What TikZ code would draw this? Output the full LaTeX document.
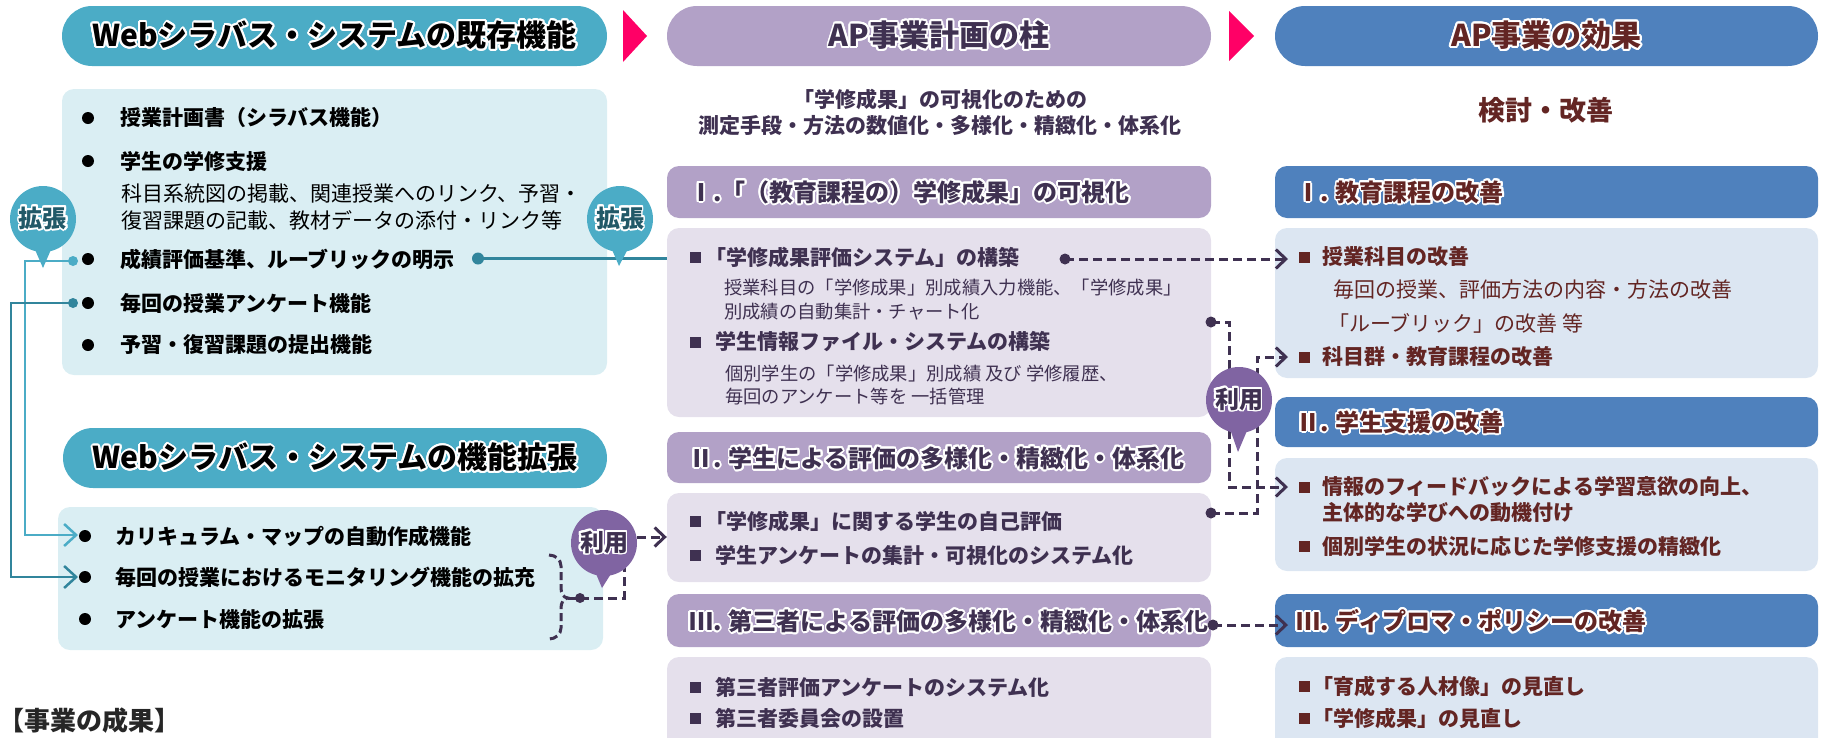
\documentclass[tikz,border=0pt]{standalone}
\usepackage{fontspec}
\setmainfont{Noto Sans CJK JP}
\usepackage{contour}
\contourlength{1.8pt}
\contournumber{24}
\usetikzlibrary{arrows.meta,calc}
\definecolor{tealH}{HTML}{4BACC6}
\definecolor{tealD}{HTML}{31859C}
\definecolor{tealL}{HTML}{DAEEF3}
\definecolor{tealT}{HTML}{215968}
\definecolor{purH}{HTML}{B2A1C7}
\definecolor{purL}{HTML}{E5E0EC}
\definecolor{purD}{HTML}{3F3151}
\definecolor{pinP}{HTML}{8064A2}
\definecolor{bluH}{HTML}{4F81BD}
\definecolor{bluL}{HTML}{DCE6F2}
\definecolor{redD}{HTML}{632523}
\definecolor{pinkT}{HTML}{FF0066}
\newcommand{\myfs}[1]{\fontsize{#1pt}{#1pt}\selectfont}
\newcommand{\sqb}[3]{\fill[#1] ({#2-5.5},{#3-5.5}) rectangle ++(11,11);}
\newcommand{\rdot}[3]{\fill[#1] (#2,#3) circle (6pt);}
\begin{document}
\begin{tikzpicture}[x=1pt,y=-1pt,
  pill/.style={fill=#1, rounded corners=30pt, inner sep=0pt, minimum height=60pt, minimum width=545pt, font=\myfs{30}\bfseries},
  box/.style={fill=#1, rounded corners=12pt, inner sep=0pt, minimum width=544pt},
  pinc/.style={circle, fill=#1, minimum size=66pt, inner sep=0pt, font=\myfs{24}\bfseries},
  tb/.style={anchor=west, inner sep=0pt, font=\myfs{21}\bfseries},
  tn/.style={anchor=west, inner sep=0pt, font=\myfs{21}},
  tm/.style={anchor=west, inner sep=0pt, font=\myfs{18.3}},
  sh/.style={anchor=west, inner sep=0pt, font=\myfs{24}\bfseries},
  dsh/.style={draw=purD, line width=3pt, dash pattern=on 9pt off 5pt},
  tarr/.style={-{Straight Barb[length=12pt,width=22pt]}},
  parr/.style={-{Straight Barb[length=10pt,width=19pt]}},
]
\useasboundingbox (0,0) rectangle (1831,737);

% ---------- headers ----------
\node[pill=tealH, text=black] (H1) at (334.5,36) {\contour{white}{Webシラバス・システムの既存機能}};
\node[pill=purH, minimum width=544pt, text=purD] (H2) at (939,36) {\contour{white}{AP事業計画の柱}};
\node[pill=bluH, minimum width=543pt, text=redD] (H3) at (1546.5,36) {\contour{white}{AP事業の効果}};
\fill[pinkT] (623,10) -- (623,62) -- (647,36) -- cycle;
\fill[pinkT] (1229,11) -- (1229,61) -- (1254,36) -- cycle;

% ---------- left column ----------
\node[box=tealL, minimum width=545pt, minimum height=286pt] (B1) at (334.5,232) {};
\node[pill=tealH, minimum width=544pt, text=black] (H4) at (335,458) {\contour{white}{Webシラバス・システムの機能拡張}};
\node[box=tealL, minimum width=545pt, minimum height=143pt] (B2) at (330.5,578.5) {};

\foreach \yy in {118,161,259,303,345} {\rdot{black}{88}{\yy}}
\node[tb] (L1) at (120,118) {授業計画書（シラバス機能）};
\node[tb] (L2) at (120,161) {学生の学修支援};
\node[tn] (L3) at (121,194) {科目系統図の掲載、関連授業へのリンク、予習・};
\node[tn] (L4) at (121,220) {復習課題の記載、教材データの添付・リンク等};
\node[tb] (L5) at (120,259) {成績評価基準、ルーブリックの明示};
\node[tb] (L6) at (120,303) {毎回の授業アンケート機能};
\node[tb] (L7) at (120,345) {予習・復習課題の提出機能};

\foreach \yy in {536,577,619} {\rdot{black}{85}{\yy}}
\node[tb] (E1) at (115,536) {カリキュラム・マップの自動作成機能};
\node[tb] (E2) at (115,577) {毎回の授業におけるモニタリング機能の拡充};
\node[tb] (E3) at (115,619) {アンケート機能の拡張};

\node[anchor=west, inner sep=0pt, font=\myfs{26}\bfseries, text=black!85] (K) at (-2,721) {【事業の成果】};

% left connectors
\coordinate (dA) at (73,261);
\coordinate (aA) at (78,535);
\coordinate (dB) at (73,303);
\coordinate (aB) at (78,577);
\draw[tealH, line width=2.5pt, tarr] (dA) -- ++(-48,0) |- (aA);
\draw[tealD, line width=2.5pt, tarr] (dB) -- ++(-62,0) |- (aB);
\fill[tealH] (dA) circle (5pt);
\fill[tealD] (dB) circle (5pt);

\coordinate (dC) at (478,258.5);
\coordinate (aC) at (685,258.5);
\draw[tealD, line width=3pt, tarr] (dC) -- (aC);
\fill[tealD] (dC) circle (6pt);

% bracket and lower pin connectors
\draw[dsh, dash pattern=on 8pt off 4pt] (549,555) to[out=0,in=90] (561,566) -- (561,588) to[out=270,in=180] (568,598) to[out=180,in=90] (561,608) -- (561,628) to[out=270,in=0] (549,639);
\coordinate (dE) at (580,598);
\draw[purD, line width=3pt] (568,598) -- (dE);
\draw[dsh] (dE) -- ++(44,0) -- ++(0,-32);
\fill[purD] (dE) circle (5pt);

% ---------- middle column ----------
\node[anchor=center, inner sep=0pt, font=\myfs{21}\bfseries, text=purD] (S1) at (940,99) {「学修成果」の可視化のための};
\node[anchor=center, inner sep=0pt, font=\myfs{21}\bfseries, text=purD] (S2) at (940,126) {測定手段・方法の数値化・多様化・精緻化・体系化};

\node[box=purH, minimum height=52pt] (M1h) at (939,192) {};
\node[sh, text=purD] at (689,193) {\contour{white}{Ⅰ.「（教育課程の）学修成果」の可視化}};
\node[box=purL, minimum height=189pt] (M1b) at (939,322.5) {};
\sqb{purD}{695}{257}
\node[tb, text=purD] (M11) at (705,257) {「学修成果評価システム」の構築};
\node[tm, text=purD] (M12) at (724,288) {授業科目の「学修成果」別成績入力機能、「学修成果」};
\node[tm, text=purD] (M13) at (724,312) {別成績の自動集計・チャート化};
\sqb{purD}{695}{342}
\node[tb, text=purD] (M14) at (715,342) {学生情報ファイル・システムの構築};
\node[tm, text=purD] (M15) at (725,374) {個別学生の「学修成果」別成績 及び 学修履歴、};
\node[tm, text=purD] (M16) at (725,397) {毎回のアンケート等を 一括管理};

\node[box=purH, minimum height=51pt] (M2h) at (939,457.5) {};
\node[sh, text=purD] at (689,459) {\contour{white}{Ⅱ. 学生による評価の多様化・精緻化・体系化}};
\node[box=purL, minimum height=89pt] (M2b) at (939,537.5) {};
\sqb{purD}{695}{521}
\node[tb, text=purD] (M21) at (705,521) {「学修成果」に関する学生の自己評価};
\sqb{purD}{695}{555}
\node[tb, text=purD] (M22) at (715,555) {学生アンケートの集計・可視化のシステム化};

\node[box=purH, minimum height=53pt] (M3h) at (939,620.5) {};
\node[sh, text=purD] at (689,622) {\contour{white}{Ⅲ. 第三者による評価の多様化・精緻化・体系化}};
\node[box=purL, minimum height=103pt] (M3b) at (939,708.5) {};
\sqb{purD}{695}{687}
\node[tb, text=purD] (M31) at (715,687) {第三者評価アンケートのシステム化};
\sqb{purD}{695}{718}
\node[tb, text=purD] (M32) at (715,718) {第三者委員会の設置};

% ---------- right column ----------
\node[anchor=center, inner sep=0pt, font=\myfs{27}\bfseries, text=redD] (S3) at (1546,110) {検討・改善};

\node[box=bluH, minimum width=543pt, minimum height=52pt] (R1h) at (1546.5,192) {};
\node[sh, text=redD] at (1296,193) {\contour{white}{Ⅰ. 教育課程の改善}};
\node[box=bluL, minimum width=543pt, minimum height=150pt] (R1b) at (1546.5,303) {};
\sqb{redD}{1304}{257}
\node[tb, text=redD] (R11) at (1322,257) {授業科目の改善};
\node[tn, text=redD] (R12) at (1333,290) {毎回の授業、評価方法の内容・方法の改善};
\node[tn, text=redD] (R13) at (1328,323) {「ルーブリック」の改善 等};
\sqb{redD}{1304}{357}
\node[tb, text=redD] (R14) at (1322,357) {科目群・教育課程の改善};

\node[box=bluH, minimum width=543pt, minimum height=50pt] (R2h) at (1546.5,422) {};
\node[sh, text=redD] at (1296,423) {\contour{white}{Ⅱ. 学生支援の改善}};
\node[box=bluL, minimum width=543pt, minimum height=113pt] (R2b) at (1546.5,514.5) {};
\sqb{redD}{1304}{487}
\node[tb, text=redD] (R21) at (1322,487) {情報のフィードバックによる学習意欲の向上、};
\node[tb, text=redD] (R22) at (1322,513) {主体的な学びへの動機付け};
\sqb{redD}{1304}{546}
\node[tb, text=redD] (R23) at (1322,546) {個別学生の状況に応じた学修支援の精緻化};

\node[box=bluH, minimum width=543pt, minimum height=53pt] (R3h) at (1546.5,620.5) {};
\node[sh, text=redD] at (1296,622) {\contour{white}{Ⅲ. ディプロマ・ポリシーの改善}};
\node[box=bluL, minimum width=543pt, minimum height=103pt] (R3b) at (1546.5,708.5) {};
\sqb{redD}{1304}{686}
\node[tb, text=redD] (R31) at (1312,686) {「育成する人材像」の見直し};
\sqb{redD}{1304}{718}
\node[tb, text=redD] (R32) at (1312,718) {「学修成果」の見直し};

% ---------- dashed connectors middle -> right ----------
\coordinate (d1) at (1065,259);
\coordinate (a1) at (1288,259);
\coordinate (d2) at (1211,322);
\coordinate (a2) at (1288,487);
\coordinate (d3) at (1211,513);
\coordinate (a3) at (1288,357);
\coordinate (d4) at (1213,625);
\coordinate (a4) at (1288,625);
\draw[dsh, parr] (d1) -- (a1);
\draw[dsh, parr] (d2) -- ++(18,0) |- (a2);
\draw[dsh, parr] (d3) -- ++(46,0) |- (a3);
\draw[dsh, parr] (d4) -- (a4);
\foreach \c in {d1,d2,d3,d4} {\fill[purD] (\c) circle (5.5pt);}

% ---------- pins ----------
\node[pinc=tealH, text=tealT] (P1) at (43,219) {\contour{white}{拡張}};
\fill[tealH] ($(P1.center)+(-10,26)$) -- ($(P1.center)+(10,26)$) -- ($(P1.center)+(0,49)$) -- cycle;
\node[pinc=tealH, text=tealT] (P2) at (620,219) {\contour{white}{拡張}};
\fill[tealH] ($(P2.center)+(-10,26)$) -- ($(P2.center)+(10,26)$) -- ($(P2.center)+(-1,47)$) -- cycle;
\node[pinc=pinP, text=purD] (P3) at (1239,400) {\contour{white}{利用}};
\fill[pinP] ($(P3.center)+(-10,26)$) -- ($(P3.center)+(10,26)$) -- ($(P3.center)+(-1,52)$) -- cycle;
\node[pinc=pinP, text=purD] (P4) at (604,543) {\contour{white}{利用}};
\fill[pinP] ($(P4.center)+(-10,26)$) -- ($(P4.center)+(10,26)$) -- ($(P4.center)+(-2,45)$) -- cycle;
\draw[dsh, parr] (P4.east |- 0,537) -- (M2b.west |- 0,537);
\end{tikzpicture}
\end{document}
